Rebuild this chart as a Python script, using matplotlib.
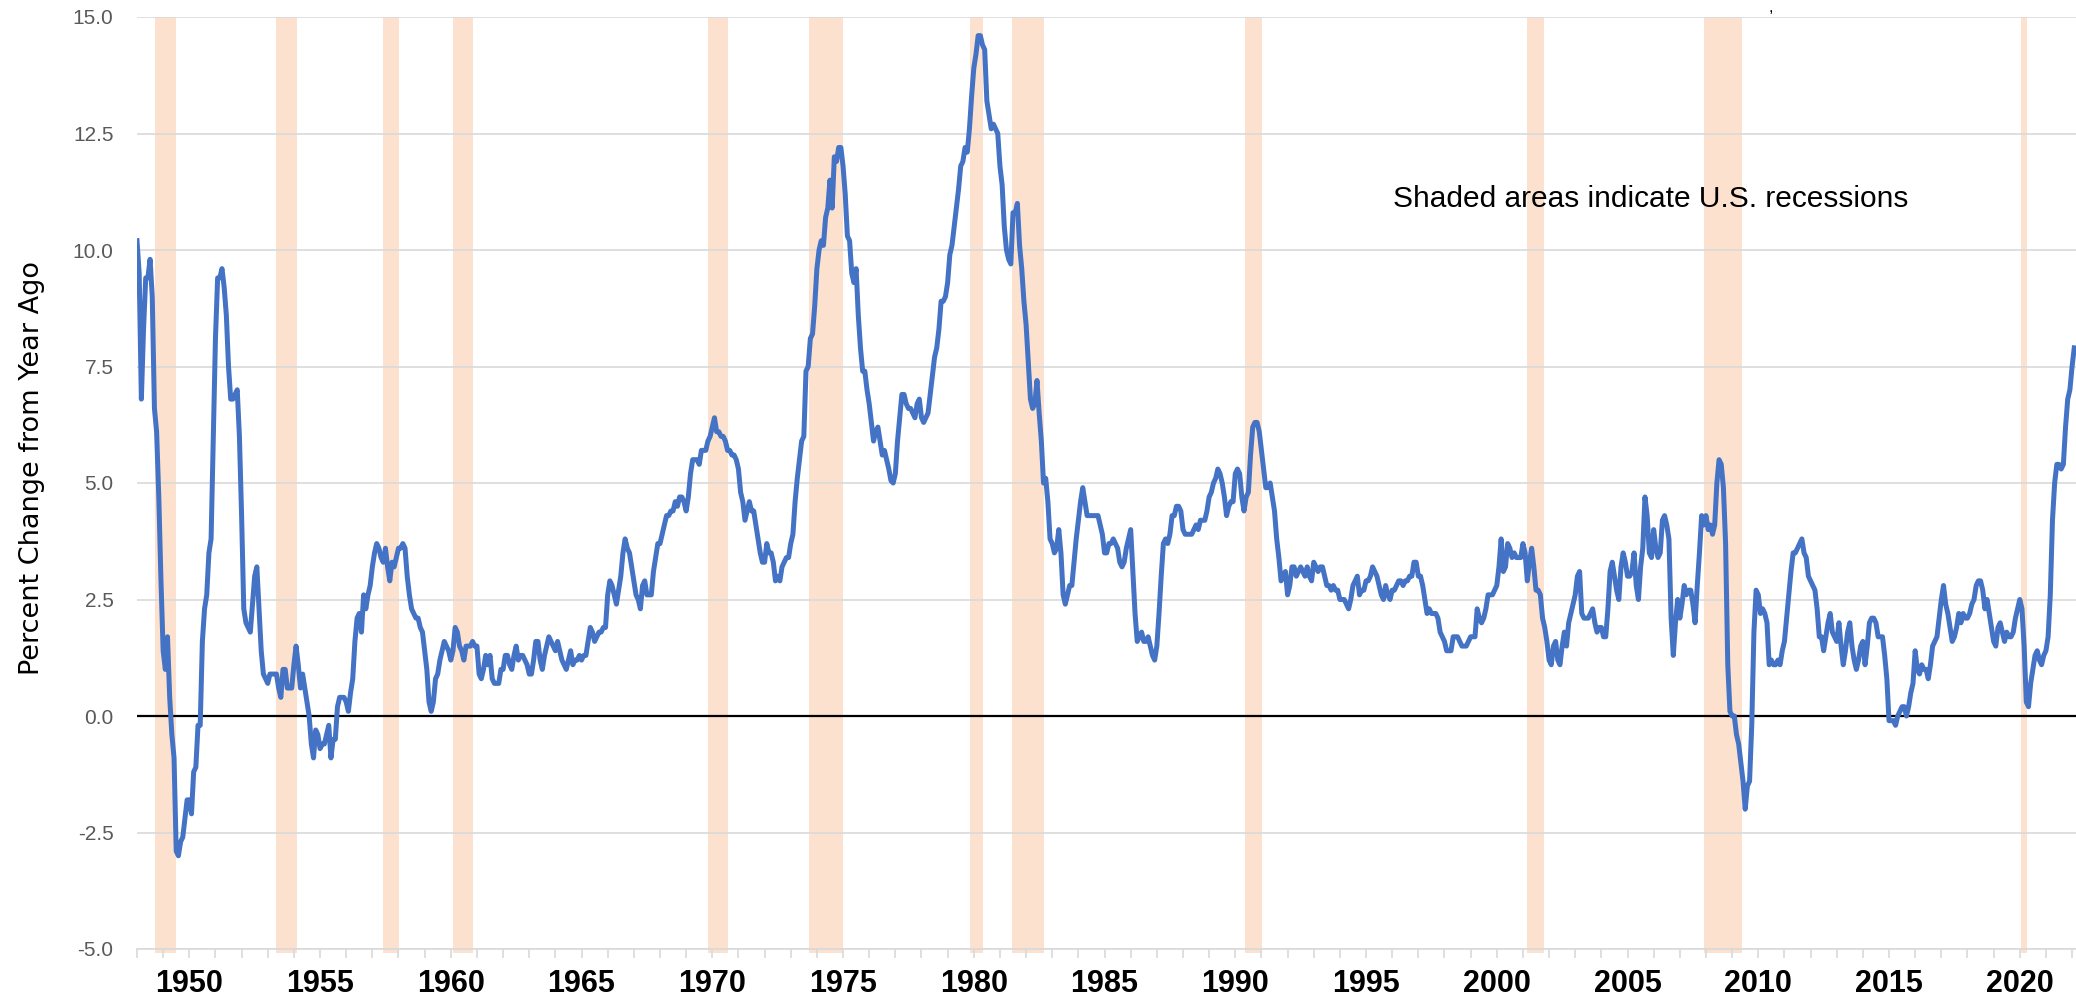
import numpy as np
import matplotlib
matplotlib.use('Agg')
import matplotlib.pyplot as plt

# CPI, percent change from year ago, monthly from Jan 1948
cpi_1940s = [10.2, 9.5, 6.8, 8.3, 9.4, 9.4, 9.8, 9.0, 6.6, 6.1, 4.7, 2.9,
             1.4, 1.0, 1.7, 0.4, -0.4, -0.9, -2.9, -3.0, -2.7, -2.6, -2.2, -1.8]
cpi_1950s = [-1.8, -2.1, -1.2, -1.1, -0.2, -0.2, 1.6, 2.3, 2.6, 3.5, 3.8, 5.9,
             8.1, 9.4, 9.4, 9.6, 9.2, 8.6, 7.5, 6.8, 6.8, 6.9, 7.0, 6.0,
             4.3, 2.3, 2.0, 1.9, 1.8, 2.4, 3.0, 3.2, 2.3, 1.4, 0.9, 0.8,
             0.7, 0.9, 0.9, 0.9, 0.9, 0.6, 0.4, 1.0, 1.0, 0.6, 0.6, 0.6,
             1.1, 1.5, 1.1, 0.6, 0.9, 0.6, 0.3, 0.0, -0.6, -0.9, -0.3, -0.4,
             -0.7, -0.6, -0.6, -0.4, -0.2, -0.9, -0.5, -0.5, 0.2, 0.4, 0.4, 0.4,
             0.3, 0.1, 0.5, 0.8, 1.6, 2.1, 2.2, 1.8, 2.6, 2.3, 2.6, 2.8,
             3.2, 3.5, 3.7, 3.6, 3.4, 3.3, 3.6, 3.2, 2.9, 3.3, 3.2, 3.4,
             3.6, 3.6, 3.7, 3.6, 3.0, 2.6, 2.3, 2.2, 2.1, 2.1, 1.9, 1.8,
             1.4, 1.0, 0.3, 0.1, 0.3, 0.8, 0.9, 1.2, 1.4, 1.6, 1.5, 1.4]
cpi_1960s = [1.2, 1.4, 1.9, 1.8, 1.5, 1.4, 1.2, 1.5, 1.5, 1.5, 1.6, 1.5,
             1.5, 0.9, 0.8, 1.0, 1.3, 1.1, 1.3, 0.8, 0.7, 0.7, 0.7, 1.0,
             1.0, 1.3, 1.3, 1.1, 1.0, 1.3, 1.5, 1.2, 1.3, 1.3, 1.2, 1.1,
             0.9, 0.9, 1.2, 1.6, 1.6, 1.2, 1.0, 1.3, 1.5, 1.7, 1.6, 1.5,
             1.4, 1.6, 1.4, 1.2, 1.1, 1.0, 1.2, 1.4, 1.1, 1.2, 1.2, 1.3,
             1.2, 1.3, 1.3, 1.6, 1.9, 1.8, 1.6, 1.7, 1.8, 1.8, 1.9, 1.9,
             2.6, 2.9, 2.8, 2.6, 2.4, 2.7, 3.0, 3.5, 3.8, 3.6, 3.5, 3.2,
             2.9, 2.6, 2.5, 2.3, 2.8, 2.9, 2.6, 2.6, 2.6, 3.1, 3.4, 3.7,
             3.7, 3.9, 4.1, 4.3, 4.3, 4.4, 4.4, 4.6, 4.5, 4.7, 4.7, 4.6,
             4.4, 4.7, 5.2, 5.5, 5.5, 5.5, 5.4, 5.7, 5.7, 5.7, 5.9, 6.0]
cpi_1970s = [6.2, 6.4, 6.1, 6.1, 6.0, 6.0, 5.9, 5.7, 5.7, 5.6, 5.6, 5.5,
             5.3, 4.8, 4.6, 4.2, 4.4, 4.6, 4.4, 4.4, 4.1, 3.8, 3.5, 3.3,
             3.3, 3.7, 3.5, 3.5, 3.3, 2.9, 3.0, 2.9, 3.2, 3.3, 3.4, 3.4,
             3.7, 3.9, 4.6, 5.1, 5.5, 5.9, 6.0, 7.4, 7.5, 8.1, 8.2, 8.8,
             9.6, 10.0, 10.2, 10.1, 10.7, 10.9, 11.5, 10.9, 12.0, 11.9, 12.2, 12.2,
             11.8, 11.2, 10.3, 10.2, 9.5, 9.3, 9.6, 8.6, 7.9, 7.4, 7.4, 7.0,
             6.7, 6.3, 5.9, 6.1, 6.2, 5.9, 5.6, 5.7, 5.5, 5.3, 5.05, 5.0,
             5.2, 5.9, 6.4, 6.9, 6.9, 6.7, 6.6, 6.6, 6.5, 6.4, 6.7, 6.8,
             6.4, 6.3, 6.4, 6.5, 6.9, 7.3, 7.7, 7.9, 8.3, 8.9, 8.9, 9.0,
             9.3, 9.9, 10.1, 10.5, 10.9, 11.3, 11.8, 11.9, 12.2, 12.1, 12.6, 13.3]
cpi_1980s = [13.9, 14.2, 14.6, 14.6, 14.4, 14.3, 13.2, 12.9, 12.6, 12.7, 12.6, 12.5,
             11.8, 11.4, 10.5, 10.0, 9.8, 9.7, 10.8, 10.8, 11.0, 10.1, 9.6, 8.9,
             8.4, 7.6, 6.8, 6.6, 6.7, 7.2, 6.5, 5.9, 5.0, 5.1, 4.6, 3.8,
             3.7, 3.5, 3.6, 4.0, 3.5, 2.6, 2.4, 2.6, 2.8, 2.8, 3.3, 3.8,
             4.2, 4.6, 4.9, 4.6, 4.3, 4.3, 4.3, 4.3, 4.3, 4.3, 4.1, 3.9,
             3.5, 3.5, 3.7, 3.7, 3.8, 3.7, 3.6, 3.3, 3.2, 3.3, 3.6, 3.8,
             4.0, 3.1, 2.2, 1.6, 1.7, 1.8, 1.6, 1.6, 1.7, 1.5, 1.3, 1.2,
             1.5, 2.2, 3.0, 3.7, 3.8, 3.7, 3.9, 4.3, 4.3, 4.5, 4.5, 4.4,
             4.0, 3.9, 3.9, 3.9, 3.9, 4.0, 4.1, 4.0, 4.2, 4.2, 4.2, 4.4,
             4.7, 4.8, 5.0, 5.1, 5.3, 5.2, 5.0, 4.7, 4.3, 4.5, 4.6, 4.6]
cpi_1990s = [5.2, 5.3, 5.2, 4.7, 4.4, 4.7, 4.8, 5.6, 6.2, 6.3, 6.3, 6.1,
             5.7, 5.3, 4.9, 4.9, 5.0, 4.7, 4.4, 3.8, 3.4, 2.9, 3.0, 3.1,
             2.6, 2.8, 3.2, 3.2, 3.0, 3.1, 3.2, 3.1, 3.0, 3.2, 3.0, 2.9,
             3.3, 3.2, 3.1, 3.2, 3.2, 3.0, 2.8, 2.8, 2.7, 2.8, 2.7, 2.7,
             2.5, 2.5, 2.5, 2.4, 2.3, 2.5, 2.8, 2.9, 3.0, 2.6, 2.7, 2.7,
             2.9, 2.9, 3.0, 3.2, 3.1, 3.0, 2.8, 2.6, 2.5, 2.8, 2.6, 2.5,
             2.7, 2.7, 2.8, 2.9, 2.9, 2.8, 2.9, 2.9, 3.0, 3.0, 3.3, 3.3,
             3.0, 3.0, 2.8, 2.5, 2.2, 2.3, 2.2, 2.2, 2.2, 2.1, 1.8, 1.7,
             1.6, 1.4, 1.4, 1.4, 1.7, 1.7, 1.7, 1.6, 1.5, 1.5, 1.5, 1.6,
             1.7, 1.7, 1.7, 2.3, 2.1, 2.0, 2.1, 2.3, 2.6, 2.6, 2.6, 2.7]
cpi_2000s = [2.8, 3.2, 3.8, 3.1, 3.2, 3.7, 3.6, 3.4, 3.5, 3.4, 3.4, 3.4,
             3.7, 3.5, 2.9, 3.3, 3.6, 3.2, 2.7, 2.7, 2.6, 2.1, 1.9, 1.6,
             1.2, 1.1, 1.5, 1.6, 1.2, 1.1, 1.5, 1.8, 1.5, 2.0, 2.2, 2.4,
             2.6, 3.0, 3.1, 2.2, 2.1, 2.1, 2.1, 2.2, 2.3, 2.0, 1.8, 1.9,
             1.9, 1.7, 1.7, 2.3, 3.1, 3.3, 3.0, 2.7, 2.5, 3.2, 3.5, 3.3,
             3.0, 3.0, 3.1, 3.5, 2.8, 2.5, 3.2, 3.6, 4.7, 4.3, 3.5, 3.4,
             4.0, 3.6, 3.4, 3.5, 4.2, 4.3, 4.1, 3.8, 2.1, 1.3, 2.0, 2.5,
             2.1, 2.4, 2.8, 2.6, 2.7, 2.7, 2.4, 2.0, 2.8, 3.5, 4.3, 4.1,
             4.3, 4.0, 4.1, 3.9, 4.1, 5.0, 5.5, 5.4, 4.9, 3.7, 1.1, 0.1,
             0.0, 0.0, -0.4, -0.6, -1.0, -1.4, -2.0, -1.5, -1.4, -0.2, 1.8, 2.7]
cpi_2010s = [2.6, 2.2, 2.3, 2.2, 2.0, 1.1, 1.2, 1.1, 1.1, 1.2, 1.1, 1.4,
             1.6, 2.1, 2.6, 3.1, 3.5, 3.5, 3.6, 3.7, 3.8, 3.5, 3.4, 3.0,
             2.9, 2.8, 2.7, 2.3, 1.7, 1.7, 1.4, 1.7, 2.0, 2.2, 1.8, 1.7,
             1.6, 2.0, 1.5, 1.1, 1.4, 1.8, 2.0, 1.5, 1.2, 1.0, 1.2, 1.5,
             1.6, 1.1, 1.5, 2.0, 2.1, 2.1, 2.0, 1.7, 1.7, 1.7, 1.3, 0.8,
             -0.1, -0.1, -0.1, -0.2, 0.0, 0.1, 0.2, 0.2, 0.0, 0.2, 0.5, 0.7,
             1.4, 1.0, 0.9, 1.1, 1.0, 1.0, 0.8, 1.1, 1.5, 1.6, 1.7, 2.1,
             2.5, 2.8, 2.4, 2.2, 1.9, 1.6, 1.7, 1.9, 2.2, 2.0, 2.2, 2.1,
             2.1, 2.2, 2.4, 2.5, 2.8, 2.9, 2.9, 2.7, 2.3, 2.5, 2.2, 1.9,
             1.6, 1.5, 1.9, 2.0, 1.8, 1.6, 1.8, 1.7, 1.7, 1.8, 2.1, 2.3]
cpi_2020s = [2.5, 2.3, 1.5, 0.3, 0.2, 0.7, 1.0, 1.3, 1.4, 1.2, 1.1, 1.3,
             1.4, 1.7, 2.6, 4.2, 5.0, 5.4, 5.4, 5.3, 5.4, 6.2, 6.8, 7.0,
             7.5, 7.9]

# recession bands as drawn (decimal years)
rec_start = [1948.70, 1953.30, 1957.42, 1960.10, 1969.82, 1973.71,
             1979.87, 1981.47, 1990.38, 2001.14, 2007.92, 2020.04]
rec_end = [1949.48, 1954.10, 1958.03, 1960.85, 1970.60, 1975.00,
           1980.35, 1982.70, 1991.04, 2001.81, 2009.38, 2020.27]

y_ticks = [-5.0, -2.5, 0.0, 2.5, 5.0, 7.5, 10.0, 12.5, 15.0]
year_labels = list(range(1950, 2021, 5))

cpi = np.array(cpi_1940s + cpi_1950s + cpi_1960s + cpi_1970s + cpi_1980s
               + cpi_1990s + cpi_2000s + cpi_2010s + cpi_2020s)
dates = 1948 + np.arange(len(cpi)) / 12

plt.rcParams['font.family'] = ['Liberation Sans', 'DejaVu Sans']

W, H = 2076, 1006
fig = plt.figure(figsize=(W / 100, H / 100), dpi=100)
ax = fig.add_axes([137 / W, 1 - 949 / H, 1 - 137 / W, (949 - 17) / H])

for s, e in zip(rec_start, rec_end):
    ax.axvspan(s, e, ymin=-0.004, ymax=1, color='#FCE1CE', lw=0, zorder=0.2, clip_on=False)

ax.axhline(0, color='black', lw=1.6, zorder=2)
ax.plot(dates, cpi, color='#4472C4', lw=3.6, zorder=3, solid_joinstyle='round')

ax.set_xlim(1948.0, 2022.15)
ax.set_ylim(-5, 15)

ax.set_yticks(y_ticks)
ax.set_yticklabels([f'{v:.1f}' for v in y_ticks])
ax.yaxis.grid(True, color='#D9D9D9', lw=1.2)
ax.set_axisbelow(True)
ax.tick_params(axis='y', length=0, pad=17, labelsize=15, labelcolor='#595959')

ax.set_xticks(year_labels)
ax.set_xticklabels([str(y) for y in year_labels], fontweight='bold')
ax.set_xticks(range(1948, 2023), minor=True)
ax.tick_params(axis='x', which='both', length=6.5, width=1.2, color='#D9D9D9', direction='out')
ax.tick_params(axis='x', which='major', labelsize=22, pad=8)

for side in ['top', 'right', 'left']:
    ax.spines[side].set_visible(False)
ax.spines['bottom'].set_color('#D9D9D9')
ax.spines['bottom'].set_linewidth(1.2)

fig.text(32 / W, 1 - 468 / H, 'Percent Change from Year Ago', rotation=90,
         ha='center', va='center', fontsize=19.5, family='DejaVu Sans')
ax.text(1996.05, 11.1, 'Shaded areas indicate U.S. recessions',
        fontsize=21.5, ha='left', va='center')
fig.text(1771 / W, 1.0, ',', fontsize=12, ha='center', va='top')

fig.savefig('out.png', dpi=100)
